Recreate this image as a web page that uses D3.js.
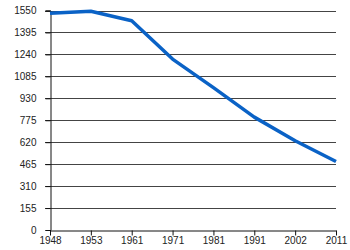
<!DOCTYPE html>
<html>
<head>
<meta charset="utf-8">
<script src="https://cdn.jsdelivr.net/npm/d3@7"></script>
<style>
  body { margin: 0; background: #fff; }
  svg text { font-family: "Liberation Sans", Arial, sans-serif; font-size: 10px; fill: #222; }
</style>
</head>
<body>
<svg id="chart" width="350" height="250"></svg>
<script>
// Data
const years = ['1948', '1953', '1961', '1971', '1981', '1991', '2002', '2011']
const values = [1530, 1545, 1478, 1207, 1005, 797, 630, 484]
const yTicks = [0, 155, 310, 465, 620, 775, 930, 1085, 1240, 1395, 1550]

const margin = { top: 10.5, right: 14, bottom: 20, left: 50 }
const width = 350, height = 250

const svg = d3.select('#chart')

const x = d3.scalePoint()
  .domain(years)
  .range([margin.left, width - margin.right])

const y = d3.scaleLinear()
  .domain([0, 1550])
  .range([height - margin.bottom, margin.top])

// horizontal grid
svg.append('g')
  .selectAll('line')
  .data(yTicks.filter(d => d > 0))
  .join('line')
  .attr('x1', margin.left - 5)
  .attr('x2', width - margin.right)
  .attr('y1', d => Math.round(y(d)) + 0.5)
  .attr('y2', d => Math.round(y(d)) + 0.5)
  .attr('stroke', '#444')
  .attr('stroke-width', 1)

// y axis
const yAxis = svg.append('g')
  .attr('transform', 'translate(' + (margin.left + 0.5) + ',0)')
  .call(d3.axisLeft(y).tickValues(yTicks).tickSize(5).tickPadding(9).tickFormat(d3.format('d')))
yAxis.select('.domain').attr('stroke', '#111')
yAxis.selectAll('.tick line').attr('stroke', '#111')
yAxis.selectAll('text').attr('font-size', null).attr('font-family', null)

// x axis
const xAxis = svg.append('g')
  .attr('transform', 'translate(0,' + (Math.round(y(0)) + 0.5) + ')')
  .call(d3.axisBottom(x).tickSize(5).tickPadding(1).tickSizeOuter(0))
xAxis.select('.domain').attr('stroke', '#111')
xAxis.selectAll('.tick line').attr('stroke', '#111')
xAxis.selectAll('text').attr('font-size', null).attr('font-family', null)

// the series
svg.append('path')
  .datum(values)
  .attr('fill', 'none')
  .attr('stroke', '#0a62c6')
  .attr('stroke-width', 3.5)
  .attr('stroke-linejoin', 'round')
  .attr('d', d3.line().x((d, i) => x(years[i])).y(d => y(d)))
</script>
</body>
</html>
